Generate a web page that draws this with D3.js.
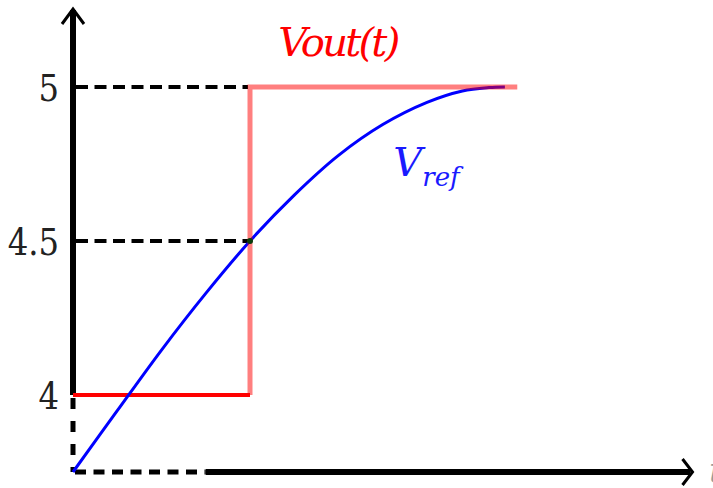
<!DOCTYPE html>
<html>
<head>
<meta charset="utf-8">
<script src="https://cdn.jsdelivr.net/npm/d3@7"></script>
<style>
  body { margin: 0; background: #fff; }
  svg { display: block; }
</style>
</head>
<body>
<div id="chart"></div>
<script>
// y axis tick values and labels
const tickValues = [4, 4.5, 5];
const tickLabels = ["4", "4.5", "5"];

// Vref curve (time, volts)
const vrefTime = [0, 0.25, 0.5, 0.75, 1, 1.25, 1.5, 1.75, 2, 2.2, 2.35, 2.44];
const vrefVolt = [3.75, 3.949, 4.146, 4.33, 4.5, 4.649, 4.778, 4.878, 4.95, 4.987, 4.998, 5.0];

// Vout(t) step
const voutTime = [0, 1, 1, 2.51];
const voutVolt = [4, 4, 5, 5];

const switchTime = 1;   // step instant
const axisStart = 0, axisEnd = 3.5;
const voltMin = 3.75;

const serif = "DejaVu Serif";

// set the dimensions of the graph
let width = 713, height = 488;

let x = d3.scaleLinear().domain([0, 1]).range([73, 250]);
let y = d3.scaleLinear().domain([4, 5]).range([395, 87]);

let svg = d3.select("#chart").append("svg")
    .attr("width", width)
    .attr("height", height);

let vref = vrefTime.map((t, i) => ({t: t, v: vrefVolt[i]}));
let vout = voutTime.map((t, i) => ({t: t, v: voutVolt[i]}));

// guide dashes from the y axis to the step
svg.selectAll(".guide")
    .data([4.5, 5])
  .enter().append("line")
    .attr("x1", x(axisStart) + 3)
    .attr("x2", x(switchTime) - 2)
    .attr("y1", d => y(d))
    .attr("y2", d => y(d))
    .attr("stroke", "#000")
    .attr("stroke-width", 4)
    .attr("stroke-dasharray", "12,6.5");

// x axis: dashed first part, then solid with arrow
svg.append("line")
    .attr("x1", x(axisStart) + 2).attr("x2", x(0.75))
    .attr("y1", y(voltMin)).attr("y2", y(voltMin))
    .attr("stroke", "#000").attr("stroke-width", 5)
    .attr("stroke-dasharray", "11,7.5");
svg.append("line")
    .attr("x1", x(0.75)).attr("x2", x(axisEnd) - 2)
    .attr("y1", y(voltMin)).attr("y2", y(voltMin))
    .attr("stroke", "#000").attr("stroke-width", 6);
svg.append("path")
    .attr("d", "M" + (x(axisEnd) - 10) + "," + (y(voltMin) - 13) +
               " L" + x(axisEnd) + "," + y(voltMin) +
               " L" + (x(axisEnd) - 10) + "," + (y(voltMin) + 13))
    .attr("fill", "none").attr("stroke", "#000").attr("stroke-width", 3);

// y axis: solid above 4, dashed below
svg.append("line")
    .attr("x1", x(axisStart)).attr("x2", x(axisStart))
    .attr("y1", y(4)).attr("y2", 10)
    .attr("stroke", "#000").attr("stroke-width", 6);
svg.append("line")
    .attr("x1", x(axisStart)).attr("x2", x(axisStart))
    .attr("y1", y(4) + 3).attr("y2", y(voltMin))
    .attr("stroke", "#000").attr("stroke-width", 5)
    .attr("stroke-dasharray", "11,12");
svg.append("path")
    .attr("d", "M" + (x(axisStart) - 11) + ",24 L" + x(axisStart) + ",9 L" + (x(axisStart) + 11) + ",24")
    .attr("fill", "none").attr("stroke", "#000").attr("stroke-width", 3);

// tick labels
svg.selectAll(".tick")
    .data(tickValues)
  .enter().append("text")
    .attr("x", 59)
    .attr("y", d => y(d))
    .attr("dy", "0.36em")
    .attr("text-anchor", "end")
    .attr("font-family", serif)
    .attr("font-size", 38)
    .attr("fill", "#222")
    .attr("transform", d => "translate(59," + y(d) + ") scale(0.85,1) translate(-59," + (-y(d)) + ")")
    .text((d, i) => tickLabels[i]);

let line = d3.line()
    .x(d => x(d.t))
    .y(d => y(d.v));

// Vout low level (solid red), under the curve
svg.append("path")
    .datum(vout.slice(0, 2))
    .attr("d", line)
    .attr("fill", "none").attr("stroke", "#ff0000").attr("stroke-width", 4);

// Vref curve
svg.append("path")
    .datum(vref)
    .attr("d", d3.line().x(d => x(d.t)).y(d => y(d.v)).curve(d3.curveCatmullRom.alpha(0.5)))
    .attr("fill", "none").attr("stroke", "#0000ff").attr("stroke-width", 3);

// Vout step and high level (lighter red), over the curve
svg.append("path")
    .datum(vout.slice(1))
    .attr("d", line)
    .attr("fill", "none").attr("stroke", "#ff0000").attr("stroke-opacity", 0.5)
    .attr("stroke-width", 5);

// crossing point
svg.append("circle")
    .attr("cx", x(switchTime)).attr("cy", y(4.5))
    .attr("r", 3).attr("fill", "#0b3d0b");

// labels
svg.append("text")
    .attr("x", x(1.16)).attr("y", y(5.1))
    .attr("font-family", serif)
    .attr("font-size", 40).attr("font-style", "italic")
    .attr("textLength", 122)
    .attr("fill", "#ff0000")
    .text("Vout(t)");

let vr = svg.append("text")
    .attr("x", x(1.81)).attr("y", y(4.71))
    .attr("font-family", serif)
    .attr("font-size", 40).attr("font-style", "italic")
    .attr("fill", "#1a1aff");
vr.append("tspan").text("V");
vr.append("tspan").attr("dy", 10).attr("font-size", 26).text("ref");

svg.append("text")
    .attr("x", 709).attr("y", y(voltMin) + 10)
    .attr("font-family", serif)
    .attr("font-size", 36).attr("font-style", "italic")
    .attr("fill", "#999")
    .text("t");
</script>
</body>
</html>
